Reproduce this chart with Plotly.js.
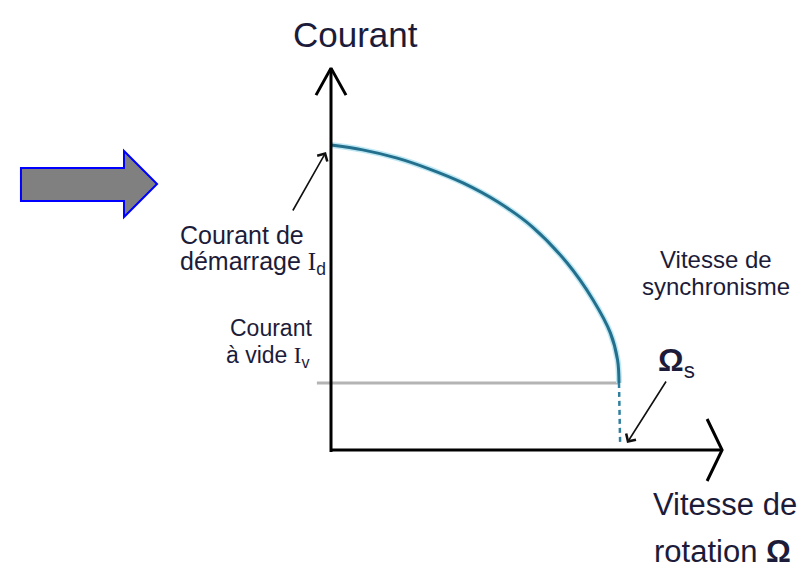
<!DOCTYPE html>
<html>
<head>
<meta charset="utf-8">
<script src="https://cdn.plot.ly/plotly-3.0.1.min.js"></script>
<style>html,body{margin:0;padding:0;background:#fff;}#chart{width:800px;height:583px;}</style>
</head>
<body>
<div id="chart"></div>
<script>
// ---- data (normalised: Ωs = 1, Id = 1) ----
const omega   = [0, 0.11, 0.23, 0.34, 0.46, 0.58, 0.70, 0.82, 0.91, 0.97, 0.995, 1.0];
const current = [1.0, 0.984, 0.957, 0.922, 0.875, 0.813, 0.731, 0.613, 0.492, 0.384, 0.295, 0.22];
const Id = 1.0;
const Iv = 0.22;
const omegaS = 1.0;
const xAxisEnd = 1.358;
const yAxisEnd = 1.252;

const labelCourant = 'Courant';
const labelDemarrage = ['Courant de', 'démarrage <span style="font-family:Liberation Serif">I</span><sub>d</sub>'];
const labelVide = ['Courant', 'à vide <span style="font-family:Liberation Serif">I</span><sub>v</sub>'];
const labelSync = ['Vitesse de', 'synchronisme'];
const labelOmegaS = '<b>Ω</b><sub>s</sub>';
const labelRotation = ['Vitesse de', 'rotation <b>Ω</b>'];

// pixel helpers (layout, margins 0)
const W = 800, H = 583;
const px = v => v / W;
const py = v => 1 - v / H;
const xr = [-331/288, (W-331)/288];
const yr = [-(H-450)/305, 450/305];
const dx = p => p / 288, dy = p => p / 305;

const FONT = 'Liberation Sans, Arial, sans-serif';
const TXT = '#1c1c3a';

const traces = [
  {x: [-0.049, omegaS], y: [Iv, Iv], mode: 'lines', line: {color: '#b4b4b4', width: 3}, hoverinfo: 'skip'},
  {x: omega, y: current, mode: 'lines', line: {color: '#bfe8f5', width: 6, shape: 'spline', smoothing: 1}, hoverinfo: 'skip'},
  {x: omega, y: current, mode: 'lines', line: {color: '#236f8c', width: 3, shape: 'spline', smoothing: 1}, hoverinfo: 'skip'},
  {x: [omegaS, omegaS + 0.004], y: [Iv, 0.016], mode: 'lines', line: {color: '#2f7f9f', width: 2.5, dash: '5px,4px'}, hoverinfo: 'skip'},
  {x: [0, 0, null, 0, xAxisEnd], y: [yAxisEnd, -dy(2), null, 0, 0], mode: 'lines', line: {color: '#000', width: 3}, hoverinfo: 'skip'},
  {x: [-dx(15), 0, dx(15)], y: [yAxisEnd - dy(27), yAxisEnd, yAxisEnd - dy(27)], mode: 'lines', line: {color: '#000', width: 3}, hoverinfo: 'skip'},
  {x: [xAxisEnd - dx(15), xAxisEnd, xAxisEnd - dx(15)], y: [dy(31), 0, -dy(31)], mode: 'lines', line: {color: '#000', width: 3}, hoverinfo: 'skip'}
];

function txt(text, x, y, size, anchor) {
  return {text: text, xref: 'paper', yref: 'paper', x: px(x), y: py(y), xanchor: anchor || 'center', yanchor: 'middle',
          showarrow: false, font: {family: FONT, size: size, color: TXT}};
}

const annotations = [
  txt(labelCourant, 355, 34, 35),
  txt(labelDemarrage[0], 178, 235, 25, 'left'),
  txt(labelDemarrage[1], 178, 263, 25, 'left'),
  txt(labelVide[0], 271, 328, 23),
  txt(labelVide[1], 267, 356, 23),
  txt(labelSync[0], 716, 259, 24),
  txt(labelSync[1], 716, 286, 24),
  txt(labelOmegaS, 656, 362, 32, 'left'),
  txt(labelRotation[0], 725, 504, 31),
  txt(labelRotation[1], 722, 551, 31),
  {x: -dx(5), y: Id - dy(7), xref: 'x', yref: 'y', ax: -34, ay: 60, showarrow: true,
   arrowhead: 4, arrowsize: 1.4, arrowwidth: 1.6, arrowcolor: '#111', text: ''},
  {x: omegaS + dx(8), y: dy(7), xref: 'x', yref: 'y', ax: 40, ay: -63, showarrow: true,
   arrowhead: 4, arrowsize: 1.4, arrowwidth: 1.6, arrowcolor: '#111', text: ''}
];

const bigArrow = [[21,168],[124,168],[124,151],[157,184],[124,217],[124,201],[21,201]];
const path = 'M' + bigArrow.map(p => px(p[0]).toFixed(4) + ',' + py(p[1]).toFixed(4)).join('L') + 'Z';

const layout = {
  width: W, height: H,
  margin: {l: 0, r: 0, t: 0, b: 0},
  paper_bgcolor: '#fff', plot_bgcolor: '#fff',
  showlegend: false,
  xaxis: {range: xr, visible: false, fixedrange: true},
  yaxis: {range: yr, visible: false, fixedrange: true},
  annotations: annotations,
  shapes: [{type: 'path', xref: 'paper', yref: 'paper', path: path,
            fillcolor: '#808080', line: {color: '#0000ff', width: 2}}]
};

Plotly.newPlot('chart', traces, layout, {staticPlot: true, displayModeBar: false});
</script>
</body>
</html>
